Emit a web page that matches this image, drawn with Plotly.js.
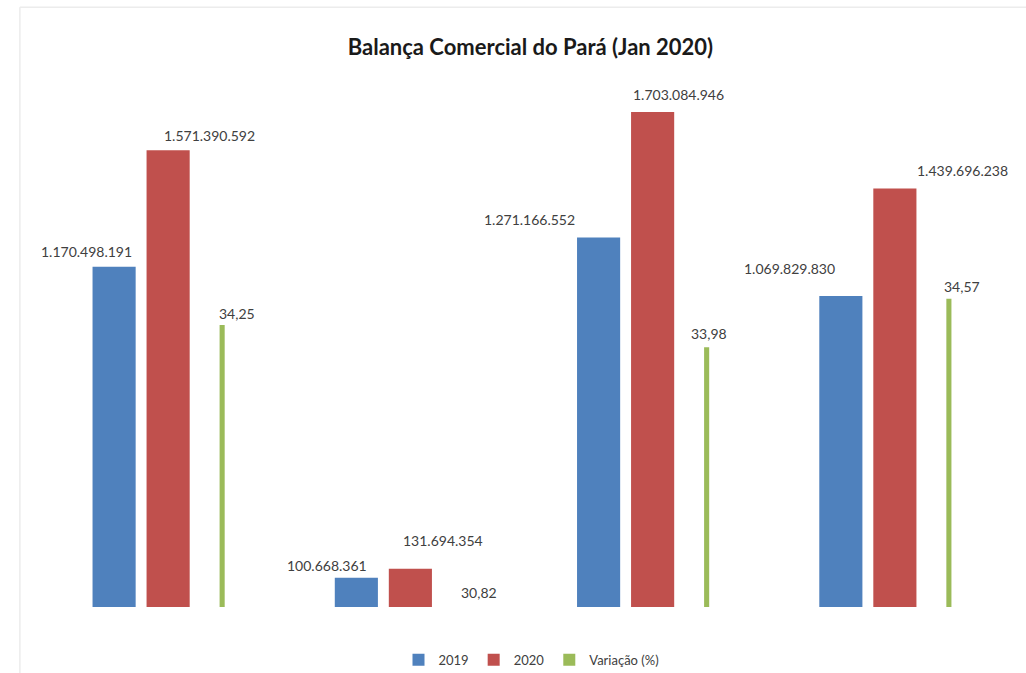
<!DOCTYPE html>
<html>
<head>
<meta charset="utf-8">
<script src="https://cdn.plot.ly/plotly-3.0.1.min.js"></script>
<style>html,body{margin:0;padding:0;background:#fff;}#chart{width:1026px;height:673px;}</style>
</head>
<body>
<div id="chart"></div>
<script>
// ---- data ----
var categories = ["Exportação", "Importação", "Corrente", "Saldo"];
var values2019 = [1170498191, 100668361, 1271166552, 1069829830];
var values2020 = [1571390592, 131694354, 1703084946, 1439696238];
var variacao = [34.25, 30.82, 33.98, 34.57];
var seriesNames = ["2019", "2020", "Variação (%)"];

// ---- label styling (pixel shifts only) ----
var shift2019 = [[-28, 15], [-29, 12], [-69, 18], [-51, 28]];
var shift2020 = [[41, 15], [33, 28], [26, 17], [68, 18]];
var shiftVar = [[15, 12], [15, 15], [2, 14], [13, 12]];

function fmtInt(v) {
  return String(Math.round(v)).replace(/\B(?=(\d{3})+(?!\d))/g, ".");
}
function fmtDec(v) {
  return v.toFixed(2).replace(".", ",");
}

var xIdx = categories.map(function (c, i) { return i; });
var bw = 0.178;

var traces = [
  {type: "bar", name: seriesNames[0], x: xIdx, y: values2019, width: bw, offset: -0.223 - bw / 2,
   marker: {color: "#4f81bd"}, hoverinfo: "y"},
  {type: "bar", name: seriesNames[1], x: xIdx, y: values2020, width: bw, offset: -bw / 2,
   marker: {color: "#c0504d"}, hoverinfo: "y"},
  {type: "bar", name: seriesNames[2], x: xIdx, y: variacao, width: 0.021, offset: 0.223 - 0.0105,
   marker: {color: "#9bbb59"}, yaxis: "y2", hoverinfo: "y"}
];

var ann = [];
var lblFont = {family: "Lato, 'Open Sans', sans-serif", size: 14, color: "#404040"};
xIdx.forEach(function (i) {
  ann.push({x: i - 0.223, y: values2019[i], xref: "x", yref: "y", text: fmtInt(values2019[i]),
    showarrow: false, xshift: shift2019[i][0] + 0, yshift: shift2019[i][1], font: lblFont});
  ann.push({x: i, y: values2020[i], xref: "x", yref: "y", text: fmtInt(values2020[i]),
    showarrow: false, xshift: shift2020[i][0], yshift: shift2020[i][1], font: lblFont});
  ann.push({x: i + 0.223, y: variacao[i], xref: "x", yref: "y2", text: fmtDec(variacao[i]),
    showarrow: false, xshift: shiftVar[i][0], yshift: shiftVar[i][1], font: lblFont});
});

var layout = {
  width: 1026, height: 673,
  margin: {l: 47, r: 10, t: 80, b: 66, autoexpand: false},
  paper_bgcolor: "#ffffff", plot_bgcolor: "#ffffff",
  title: {text: "<b>Balança Comercial do Pará (Jan 2020)</b>", x: 0.517, xanchor: "center", y: 0.93, yanchor: "middle",
    font: {family: "Lato, 'Open Sans', sans-serif", size: 22, color: "#1a1a1a"}},
  barmode: "overlay",
  showlegend: true,
  legend: {orientation: "h", x: 0.5, xanchor: "center", y: -0.1, yanchor: "middle",
    font: {family: "Lato, 'Open Sans', sans-serif", size: 13, color: "#404040"},
    itemwidth: 30, traceorder: "normal"},
  xaxis: {type: "linear", range: [-0.5, 3.5], showticklabels: false, showgrid: false, zeroline: false,
    showline: false, ticks: ""},
  yaxis: {range: [0, 1.813e9], showticklabels: false, showgrid: false, zeroline: false, showline: false, ticks: ""},
  yaxis2: {overlaying: "y", side: "right", range: [30.82, 37.23], showticklabels: false, showgrid: false,
    zeroline: false, showline: false, ticks: ""},
  annotations: ann,
  shapes: [
    {type: "line", xref: "paper", yref: "paper", x0: -0.028, x1: -0.028, y0: -0.2, y1: 1.138,
     line: {color: "#ececec", width: 1.5}},
    {type: "line", xref: "paper", yref: "paper", x0: -0.028, x1: 1.02, y0: 1.138, y1: 1.138,
     line: {color: "#ececec", width: 1.5}}
  ]
};

Plotly.newPlot("chart", traces, layout, {displayModeBar: false, staticPlot: true});
</script>
</body>
</html>
